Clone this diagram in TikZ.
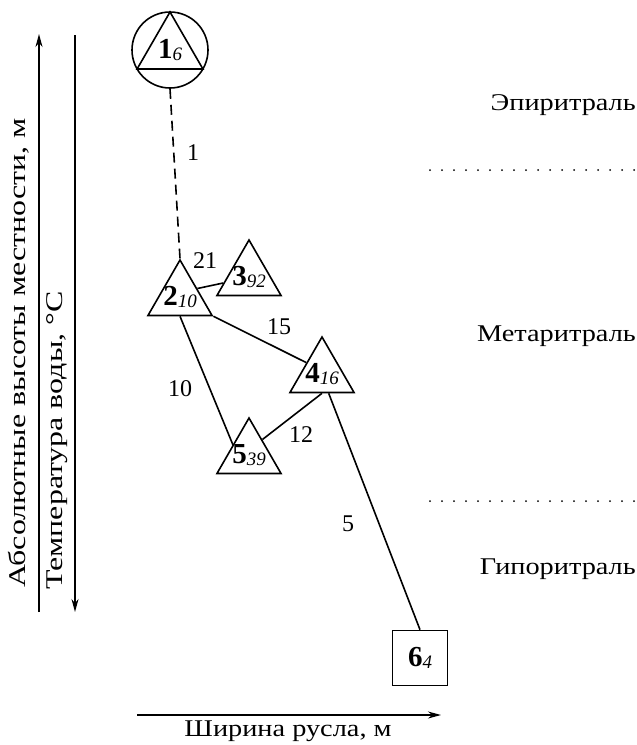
\documentclass[tikz,border=0pt]{standalone}
\usepackage{fontspec}
\setmainfont{Liberation Serif}
\newfontfamily\widefont[FakeStretch=1.18]{Liberation Serif}
\newfontfamily\tallfont[FakeStretch=1.33]{Liberation Serif}
\usetikzlibrary{shapes.geometric,arrows.meta,calc}
\newcommand{\nlab}[2]{{\fontsize{29}{29}\selectfont\bfseries #1}\raisebox{-0.45ex}{\fontsize{19}{19}\selectfont\itshape #2}}
\tikzset{
  base/.style={font=\fontsize{24}{27}\selectfont, inner sep=0pt},
  wordlab/.style={font=\widefont\fontsize{24}{27}\selectfont, inner sep=0pt},
  vertlab/.style={font=\tallfont\fontsize{24}{27}\selectfont, inner sep=0pt, rotate=90, anchor=west},
  tri/.style={draw, line width=1.6pt, regular polygon, regular polygon sides=3, minimum size=74pt, inner sep=-14pt},
  ring/.style={draw, line width=1.6pt, circle, minimum size=76pt, inner sep=0pt},
  box/.style={draw, line width=1.6pt, rectangle, minimum size=55pt, inner sep=0pt},
  link/.style={line width=1.6pt},
  dashlink/.style={line width=1.6pt, dash pattern=on 10pt off 6pt},
  zone/.style={line width=2pt, line cap=round, dash pattern=on 0pt off 12pt},
  axis/.style={line width=1.4pt, -{Stealth[length=13pt,width=7pt]}},
  lab/.style={base},
  zonelab/.style={wordlab, anchor=east},
}
\begin{document}
\begin{tikzpicture}[x=1pt,y=-1pt]
\useasboundingbox (0,0) rectangle (637,745);

% nodes
\node[ring] (n1) at (170,50) {};
\node[tri, minimum size=76pt, inner sep=-22pt] (n1t) at (170,50) {\nlab{1}{6}};
\node[tri] (n2) at (180,297) {\nlab{2}{10}};
\node[tri] (n3) at (249,277) {\nlab{3}{92}};
\node[tri] (n4) at (322,374) {\nlab{4}{16}};
\node[tri] (n5) at (249,455) {\nlab{5}{39}};
\node[box] (n6) at (420,658) {\nlab{6}{4}};

% connectors
\draw[dashlink] (n1.south) -- (n2.corner 1);
\draw[link] ($(n2.corner 1)!0.52!(n2.corner 3)$) -- ($(n3.corner 1)!0.77!(n3.corner 2)$);
\draw[link] (n2.corner 3) -- ($(n4.corner 1)!0.47!(n4.corner 2)$);
\draw[link] (n2.side 2) -- ($(n5.center)+(-16,-10)$);
\draw[link] (n4.side 2) -- ($(n5.corner 1)!0.4!(n5.corner 3)$);
\draw[link] ($(n4.corner 2)!0.6!(n4.corner 3)$) -- (n6.north);

% edge labels
\node[lab] (l1) at (193,153) {1};
\node[lab] (l21) at (205,261) {21};
\node[lab] (l15) at (279,327) {15};
\node[lab] (l10) at (180,389) {10};
\node[lab] (l12) at (301,435) {12};
\node[lab] (l5) at (348,524) {5};

% zones
\node[zonelab] (z1) at (636,105) {Эпиритраль};
\node[zonelab] (z2) at (636,336) {Метаритраль};
\node[zonelab] (z3) at (636,569) {Гипоритраль};
\coordinate (d1a) at (430,170);
\coordinate (d1b) at (637,170);
\coordinate (d2a) at (430,501);
\coordinate (d2b) at (637,501);
\draw[zone] (d1a) -- (d1b);
\draw[zone] (d2a) -- (d2b);

% axes
\coordinate (ya0) at (39,612);
\coordinate (ya1) at (39,34);
\coordinate (yb0) at (75,35);
\coordinate (yb1) at (75,612);
\coordinate (xa0) at (137,715);
\coordinate (xa1) at (441,715);
\draw[axis] (ya0) -- (ya1);
\draw[axis] (yb0) -- (yb1);
\draw[axis] (xa0) -- (xa1);
\node[vertlab] (ty1) at (19,588) {Абсолютные высоты местности, м};
\node[vertlab] (ty2) at (57,590) {Температура воды, °С};
\node[wordlab] (tx) at (288,731) {Ширина русла, м};
\end{tikzpicture}
\end{document}
